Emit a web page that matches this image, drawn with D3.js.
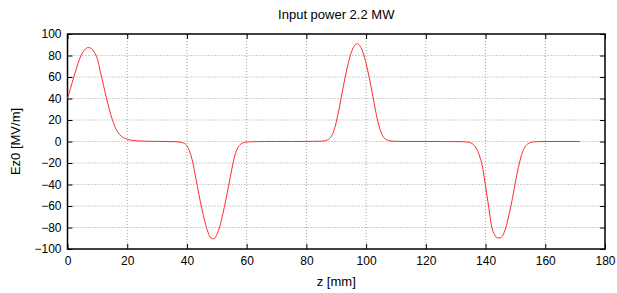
<!DOCTYPE html>
<html>
<head>
<meta charset="utf-8">
<script src="https://cdn.jsdelivr.net/npm/d3@7"></script>
<style>
  body { margin: 0; background: #fff; }
  svg { display: block; font-family: "Liberation Sans", Arial, sans-serif; }
  .grid line { stroke: #a0a0a0; stroke-width: 1; stroke-dasharray: 1,2; }
  .axis path { display: none; }
  .axis line { stroke: #000; stroke-width: 1; }
  .axis text { font-size: 12px; fill: #000; }
</style>
</head>
<body>
<svg id="chart" width="617" height="293"></svg>
<script>
// field profile
var zVals = [0, 1, 2, 3, 4, 5, 6, 7, 8, 9, 10, 11, 12, 13, 14, 15, 16, 17, 18, 19, 20, 21, 22,
  23, 24, 26, 28, 30, 32, 34, 35, 36, 37, 38, 39, 40, 41, 42, 43, 44, 45, 46, 47, 48, 49,
  50, 51, 52, 53, 54, 55, 56, 57, 58, 59, 60, 61, 62, 64, 66, 70, 75, 80, 82, 84, 85, 86,
  87, 88, 89, 90, 91, 92, 93, 94, 95, 96, 97, 98, 99, 100, 101, 102, 103, 104, 105, 106,
  107, 108, 109, 110, 112, 115, 120, 125, 130, 132, 133, 134, 135, 136, 137, 138, 139, 140,
  141, 142, 143, 144, 145, 146, 147, 148, 149, 150, 151, 152, 153, 154, 155, 156, 157, 158,
  160, 165, 171.6];
var ezVals = [40, 49.5, 59, 68, 76.5, 82.5, 86, 87.4, 86.5, 83, 77, 65, 53, 41, 30, 20.5, 13, 8, 5, 3.2, 2.1, 1.4, 1.0,
  0.7, 0.5, 0.3, 0.2, 0.1, 0, -0.1, -0.15, -0.2, -0.4, -0.8, -1.6, -4, -10, -20, -34.5, -49, -62.7, -74.6, -84, -89.6, -90.6,
  -86.5, -79, -67.7, -54.8, -40.5, -26, -13.5, -6, -2.5, -1.1, -0.5, -0.3, -0.2, -0.1, 0, 0, 0, 0.05, 0.1, 0.2, 0.3, 0.6,
  1.4, 3.5, 8.5, 18, 31, 46, 60, 72.5, 82.5, 88.7, 91, 88.7, 82.5, 72.5, 60, 46, 31, 18, 8.5, 3.5,
  1.4, 0.6, 0.3, 0.15, 0.05, 0, 0, 0, -0.1, -0.2, -0.35, -0.6, -1.2, -3, -7, -13.5, -24, -41.5,
  -60, -78.5, -86.5, -89.7, -89.6, -86, -78, -66, -53, -37.5, -24, -13, -6, -2.5, -1, -0.4, -0.2, -0.1,
  0, 0, 0];

var xTicks = [0, 20, 40, 60, 80, 100, 120, 140, 160, 180];
var yTicks = [-100, -80, -60, -40, -20, 0, 20, 40, 60, 80, 100];

var title = "Input power 2.2 MW";
var xLabel = "z [mm]";
var yLabel = "Ez0 [MV/m]";

var svg = d3.select("#chart"),
    W = 617, H = 293,
    m = {top: 34, right: 12, bottom: 44, left: 67.5};

var x = d3.scaleLinear().domain([0, 180]).range([m.left, W - m.right]),
    y = d3.scaleLinear().domain([-100, 100]).range([H - m.bottom, m.top]);

// dotted grid
var grid = svg.append("g").attr("class", "grid");
grid.selectAll(".gx").data(xTicks.slice(1, -1)).enter().append("line")
    .attr("x1", d => x(d)).attr("x2", d => x(d))
    .attr("y1", y(-100)).attr("y2", y(100));
grid.selectAll(".gy").data(yTicks.slice(1, -1)).enter().append("line")
    .attr("x1", x(0)).attr("x2", x(180))
    .attr("y1", d => y(d)).attr("y2", d => y(d));

// axes, ticks pointing inward on all sides
svg.append("g").attr("class", "axis")
    .attr("transform", "translate(0," + y(-100) + ")")
    .call(d3.axisBottom(x).tickValues(xTicks).tickSize(-5).tickPadding(7));
svg.append("g").attr("class", "axis")
    .attr("transform", "translate(0," + y(100) + ")")
    .call(d3.axisTop(x).tickValues(xTicks).tickSize(-5).tickFormat(""));
svg.append("g").attr("class", "axis")
    .attr("transform", "translate(" + x(0) + ",0)")
    .call(d3.axisLeft(y).tickValues(yTicks).tickSize(-5).tickPadding(6));
svg.append("g").attr("class", "axis")
    .attr("transform", "translate(" + x(180) + ",0)")
    .call(d3.axisRight(y).tickValues(yTicks).tickSize(-5).tickFormat(""));

// frame
svg.append("rect")
    .attr("x", x(0)).attr("y", y(100))
    .attr("width", x(180) - x(0)).attr("height", y(-100) - y(100))
    .attr("fill", "none").attr("stroke", "#000").attr("stroke-width", 1.5);

// curve
var line = d3.line()
    .x(function (d, i) { return x(zVals[i]); })
    .y(function (d) { return y(d); })
    .curve(d3.curveMonotoneX);

svg.append("path")
    .attr("d", line(ezVals))
    .attr("fill", "none")
    .attr("stroke", "#ff2a2a")
    .attr("stroke-width", 1);

// labels
svg.append("text")
    .attr("x", (x(0) + x(180)) / 2).attr("y", 19)
    .attr("text-anchor", "middle").attr("font-size", 13)
    .text(title);
svg.append("text")
    .attr("x", (x(0) + x(180)) / 2).attr("y", 286)
    .attr("text-anchor", "middle").attr("font-size", 13)
    .text(xLabel);
svg.append("text")
    .attr("transform", "translate(20," + ((y(100) + y(-100)) / 2) + ") rotate(-90)")
    .attr("text-anchor", "middle").attr("font-size", 13)
    .text(yLabel);
</script>
</body>
</html>
